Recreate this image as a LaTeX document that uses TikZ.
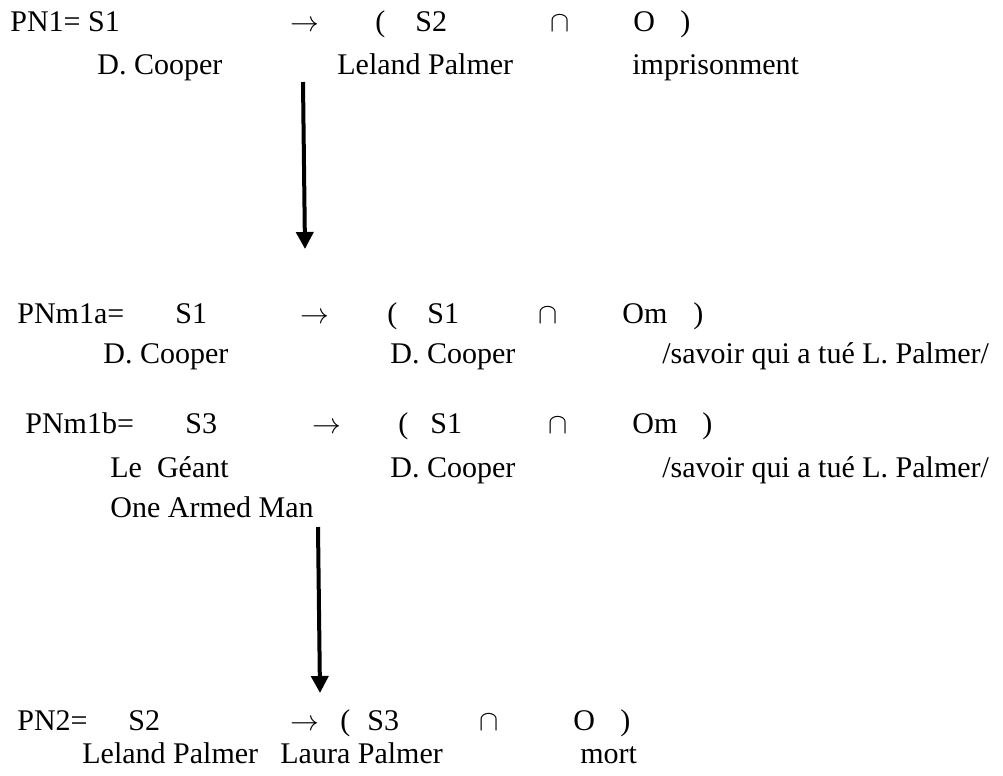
\documentclass[tikz,border=0pt]{standalone}
\usepackage{fontspec}
\setmainfont{Liberation Serif}
\usetikzlibrary{positioning, arrows.meta}

\tikzset{
  txt/.style={inner sep=0pt, anchor=base west, font=\fontsize{15pt}{18pt}\selectfont},
  bigarrow/.style={line width=2pt, -{Triangle[length=8.5pt, width=8.5pt]}}
}

\begin{document}
\begin{tikzpicture}[x=0.5pt, y=-0.5pt]
    \useasboundingbox (0, 0) rectangle (1003, 776);

    % PN1
    \node [txt] (PN1) at (10, 32) {PN1= S1};
    \node [txt] (to1) at (290, 32) {$\rightarrow$};
    \node [txt] (lp1) at (375, 32) {(};
    \node [txt] (S2a) at (415, 32) {S2};
    \node [txt] (cap1) at (550, 32) {$\cap$};
    \node [txt] (O1) at (633, 32) {O};
    \node [txt] (rp1) at (680, 32) {)};
    \node [txt] (cooper1) at (97, 75) {D. Cooper};
    \node [txt] (leland1) at (337, 75) {Leland Palmer};
    \node [txt] (prison) at (632, 75) {imprisonment};

    % PNm1a
    \node [txt] (PNm1a) at (17, 323) {PNm1a=};
    \node [txt] (S1a) at (175, 323) {S1};
    \node [txt] (to2) at (300, 323) {$\rightarrow$};
    \node [txt] (lp2) at (387, 323) {(};
    \node [txt] (S1b) at (427, 323) {S1};
    \node [txt] (cap2) at (538, 323) {$\cap$};
    \node [txt] (Om1) at (622, 323) {Om};
    \node [txt] (rp2) at (693, 323) {)};
    \node [txt] (cooper2) at (103, 363) {D. Cooper};
    \node [txt] (cooper3) at (390, 363) {D. Cooper};
    \node [txt] (savoir1) at (662, 363) {/savoir qui a tué L. Palmer/};

    % PNm1b
    \node [txt] (PNm1b) at (25, 433) {PNm1b=};
    \node [txt] (S3a) at (185, 433) {S3};
    \node [txt] (to3) at (312, 433) {$\rightarrow$};
    \node [txt] (lp3) at (398, 433) {(};
    \node [txt] (S1c) at (430, 433) {S1};
    \node [txt] (cap3) at (548, 433) {$\cap$};
    \node [txt] (Om2) at (632, 433) {Om};
    \node [txt] (rp3) at (702, 433) {)};
    \node [txt] (geant) at (110, 477) {Le\ \ Géant};
    \node [txt] (cooper4) at (390, 477) {D. Cooper};
    \node [txt] (savoir2) at (662, 477) {/savoir qui a tué L. Palmer/};
    \node [txt] (onearm) at (110, 517) {One Armed Man};

    % PN2
    \node [txt] (PN2) at (17, 730) {PN2=};
    \node [txt] (S2b) at (128, 730) {S2};
    \node [txt] (to4) at (290, 730) {$\rightarrow$};
    \node [txt] (lp4) at (340, 730) {(};
    \node [txt] (S3b) at (367, 730) {S3};
    \node [txt] (cap4) at (479, 730) {$\cap$};
    \node [txt] (O2) at (573, 730) {O};
    \node [txt] (rp4) at (620, 730) {)};
    \node [txt] (leland2) at (82, 763) {Leland Palmer};
    \node [txt] (laura) at (280, 763) {Laura Palmer};
    \node [txt] (mort) at (580, 763) {mort};

    \coordinate (top1) at (303, 82);
    \coordinate (end1) at (305, 249);
    \coordinate (top2) at (318, 527);
    \coordinate (end2) at (320, 693);

    \draw [bigarrow] (top1) -- (end1);
    \draw [bigarrow] (top2) -- (end2);
\end{tikzpicture}
\end{document}
